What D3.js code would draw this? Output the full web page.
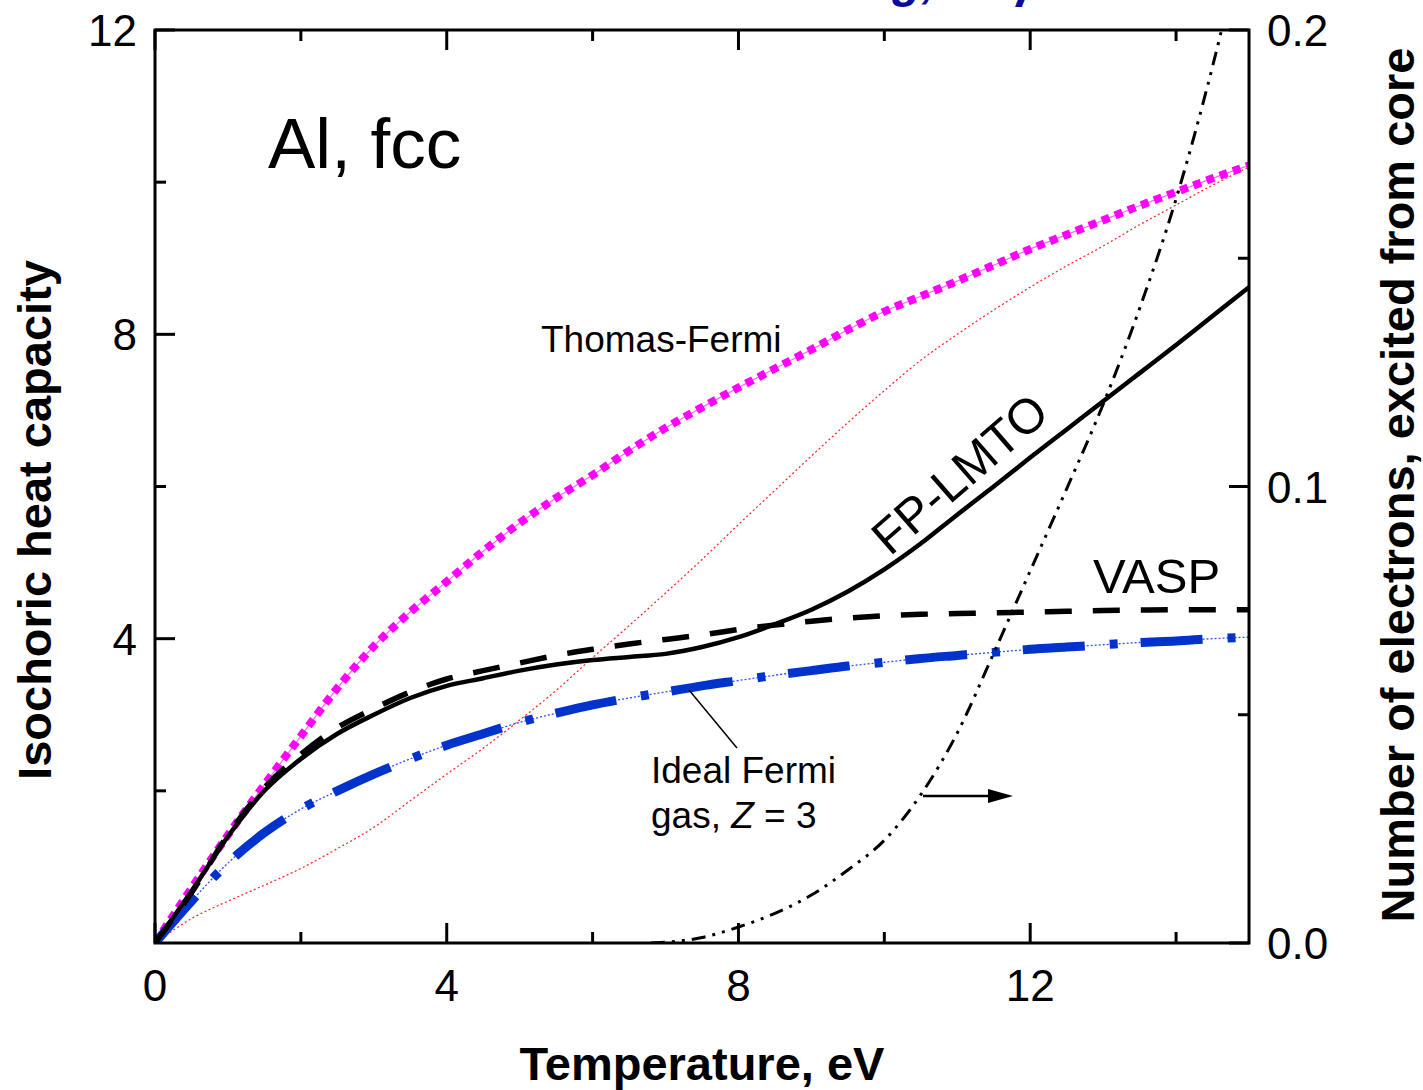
<!DOCTYPE html>
<html lang="en">
<head>
    <meta charset="UTF-8">
    <title>Al fcc heat capacity</title>
    <script src="https://cdnjs.cloudflare.com/ajax/libs/d3/7.9.0/d3.min.js"></script>
    <style>
        body { margin: 0; background: #fff; font-family: "Liberation Sans", Arial, sans-serif; }
        svg text { font-family: "Liberation Sans", Arial, sans-serif; }
        .tick-label { font-size: 44px; fill: #000; }
        .axis-title { font-size: 47px; font-weight: bold; fill: #000; }
        .note { font-size: 37px; fill: #000; }
    </style>
</head>
<body>
<div id="chart"></div>
<script>
    // temperature grid (eV) and curves
    const tGrid = [0, 0.5, 1, 1.5, 2, 2.5, 3, 3.5, 4, 4.5, 5, 5.5, 6, 6.5, 7, 7.5, 8, 8.5, 9, 9.5, 10, 10.5, 11, 11.5, 12, 12.5, 13, 13.5, 14, 14.5, 15];

    const thomasFermi = [0, 0.72, 1.42, 2.08, 2.72, 3.35, 3.9, 4.35, 4.75, 5.15, 5.52, 5.85, 6.15, 6.47, 6.77, 7.04, 7.3, 7.55, 7.8, 8.06, 8.3, 8.5, 8.7, 8.91, 9.12, 9.31, 9.5, 9.69, 9.87, 10.05, 10.22];
    const fpLmto = [0, 0.68, 1.4, 2.0, 2.42, 2.75, 3.0, 3.22, 3.38, 3.48, 3.58, 3.66, 3.72, 3.76, 3.8, 3.89, 4.02, 4.19, 4.38, 4.62, 4.91, 5.25, 5.63, 6.0, 6.38, 6.75, 7.12, 7.49, 7.86, 8.24, 8.62];
    const vasp = [0, 0.66, 1.42, 2.04, 2.48, 2.83, 3.08, 3.3, 3.47, 3.58, 3.68, 3.78, 3.86, 3.93, 3.99, 4.05, 4.12, 4.18, 4.23, 4.27, 4.3, 4.32, 4.33, 4.34, 4.35, 4.36, 4.37, 4.375, 4.38, 4.38, 4.38];
    const idealFermi = [0, 0.55, 1.05, 1.45, 1.76, 2.0, 2.22, 2.42, 2.6, 2.75, 2.9, 3.02, 3.13, 3.22, 3.3, 3.38, 3.45, 3.52, 3.58, 3.64, 3.69, 3.74, 3.78, 3.82, 3.86, 3.89, 3.92, 3.95, 3.97, 4.0, 4.02];
    const redDotted = [0, 0.32, 0.55, 0.76, 0.98, 1.24, 1.52, 1.87, 2.22, 2.56, 2.93, 3.32, 3.75, 4.17, 4.6, 5.04, 5.5, 5.95, 6.4, 6.84, 7.26, 7.66, 8.0, 8.32, 8.62, 8.9, 9.16, 9.44, 9.7, 9.96, 10.2];

    // electrons excited from core (right axis)
    const coreT = [6.8, 7.5, 8, 8.5, 9, 9.5, 10, 10.5, 11, 11.5, 12, 12.5, 13, 13.5, 14, 14.5, 15];
    const coreN = [0, 0.0012, 0.0035, 0.0065, 0.0105, 0.016, 0.0225, 0.0325, 0.046, 0.0635, 0.0815, 0.0995, 0.118, 0.139, 0.163, 0.192, 0.226];

    const xTicks = [0, 4, 8, 12];
    const xMinor = [2, 6, 10, 14];
    const yTicks = [4, 8, 12];
    const yMinor = [2, 6, 10];
    const y2Ticks = [0, 0.1, 0.2];
    const y2Minor = [0.05, 0.15];

    const width = 1423, height = 1090;
    const margin = { top: 30, right: 174, bottom: 147, left: 155 };
    const w = width - margin.left - margin.right;
    const h = height - margin.top - margin.bottom;

    const svg = d3.select("#chart").append("svg")
        .attr("width", width)
        .attr("height", height);

    const x = d3.scaleLinear().domain([0, 15]).range([0, w]);
    const y = d3.scaleLinear().domain([0, 12]).range([h, 0]);
    const y2 = d3.scaleLinear().domain([0, 0.2]).range([h, 0]);

    svg.append("defs").append("clipPath").attr("id", "plot-clip")
        .append("rect").attr("width", w).attr("height", h);

    const g = svg.append("g").attr("transform", `translate(${margin.left},${margin.top})`);
    const plot = g.append("g").attr("clip-path", "url(#plot-clip)");

    const line = d3.line()
        .x(d => x(d[0]))
        .y(d => y(d[1]))
        .curve(d3.curveMonotoneX);
    const pairs = vals => tGrid.map((t, i) => [t, vals[i]]);

    // thin red dotted
    plot.append("path").attr("d", line(pairs(redDotted)))
        .attr("fill", "none").attr("stroke", "#ff2020").attr("stroke-width", 1.2)
        .attr("stroke-dasharray", "2,2.5");

    // Thomas-Fermi: thin line plus thick square dots
    plot.append("path").attr("d", line(pairs(thomasFermi)))
        .attr("fill", "none").attr("stroke", "#ff66ff").attr("stroke-width", 1.2);
    plot.append("path").attr("d", line(pairs(thomasFermi)))
        .attr("fill", "none").attr("stroke", "#ff00ff").attr("stroke-width", 8)
        .attr("stroke-dasharray", "8,6");

    // ideal Fermi gas: thin dotted plus dash-dot
    plot.append("path").attr("d", line(pairs(idealFermi)))
        .attr("fill", "none").attr("stroke", "#3050ff").attr("stroke-width", 1.3)
        .attr("stroke-dasharray", "2,2");
    plot.append("path").attr("d", line(pairs(idealFermi)))
        .attr("fill", "none").attr("stroke", "#0033cc").attr("stroke-width", 9)
        .attr("stroke-dasharray", "62,25,8,23");

    // VASP dashed
    plot.append("path").attr("d", line(pairs(vasp)))
        .attr("fill", "none").attr("stroke", "#000").attr("stroke-width", 5.5)
        .attr("stroke-dasharray", "27,21");

    // FP-LMTO solid
    plot.append("path").attr("d", line(pairs(fpLmto)))
        .attr("fill", "none").attr("stroke", "#000").attr("stroke-width", 4.5);

    // core electrons, right axis
    const coreLine = d3.line()
        .x(d => x(d[0]))
        .y(d => y2(d[1]))
        .curve(d3.curveMonotoneX);
    plot.append("path").attr("d", coreLine(coreT.map((t, i) => [t, coreN[i]])))
        .attr("fill", "none").attr("stroke", "#000").attr("stroke-width", 3)
        .attr("stroke-dasharray", "14,7,3,7,3,7");

    // frame
    g.append("rect").attr("width", w).attr("height", h)
        .attr("fill", "none").attr("stroke", "#000").attr("stroke-width", 3);

    // inward ticks
    const major = 20, minor = 11;
    const tk = g.append("g").attr("stroke", "#000").attr("stroke-width", 3);
    xTicks.concat(xMinor).forEach(v => {
        const len = xTicks.includes(v) ? major : minor;
        tk.append("line").attr("x1", x(v)).attr("x2", x(v)).attr("y1", h).attr("y2", h - len);
        tk.append("line").attr("x1", x(v)).attr("x2", x(v)).attr("y1", 0).attr("y2", len);
    });
    yTicks.concat(yMinor).forEach(v => {
        const len = yTicks.includes(v) ? major : minor;
        tk.append("line").attr("x1", 0).attr("x2", len).attr("y1", y(v)).attr("y2", y(v));
    });
    y2Ticks.concat(y2Minor).forEach(v => {
        const len = y2Ticks.includes(v) ? major : minor;
        tk.append("line").attr("x1", w).attr("x2", w - len).attr("y1", y2(v)).attr("y2", y2(v));
    });

    // tick labels
    xTicks.forEach(v => {
        g.append("text").attr("class", "tick-label")
            .attr("x", x(v)).attr("y", h + 58)
            .attr("text-anchor", "middle").text(v);
    });
    yTicks.forEach(v => {
        g.append("text").attr("class", "tick-label")
            .attr("x", -18).attr("y", y(v) + 16)
            .attr("text-anchor", "end").text(v);
    });
    y2Ticks.forEach(v => {
        g.append("text").attr("class", "tick-label")
            .attr("x", w + 18).attr("y", y2(v) + 16)
            .attr("text-anchor", "start").text(d3.format(".1f")(v));
    });

    // axis titles
    svg.append("text").attr("class", "axis-title")
        .attr("x", margin.left + w / 2).attr("y", 1080)
        .attr("text-anchor", "middle").text("Temperature, eV");
    svg.append("text").attr("class", "axis-title")
        .attr("transform", "translate(51,520) rotate(-90)")
        .attr("text-anchor", "middle").text("Isochoric heat capacity");
    svg.append("text").attr("class", "axis-title")
        .attr("transform", "translate(1414,485) rotate(-90)")
        .attr("text-anchor", "middle").text("Number of electrons, excited from core");

    // cropped blue heading at the very top
    svg.append("text").attr("x", 935).attr("y", -3)
        .attr("text-anchor", "end")
        .style("font-size", "48px").style("font-weight", "bold").style("font-style", "italic")
        .attr("fill", "#0a0aa0").text("g,");
    svg.append("text").attr("x", 1012).attr("y", -3)
        .style("font-size", "48px").style("font-weight", "bold").style("font-style", "italic")
        .attr("fill", "#0a0aa0").text("γ");

    // annotations
    svg.append("text").attr("x", 268).attr("y", 168)
        .style("font-size", "71px").attr("fill", "#000").text("Al, fcc");
    svg.append("text").attr("class", "note").attr("x", 541).attr("y", 352).text("Thomas-Fermi");
    svg.append("text").attr("transform", "translate(890,557) rotate(-41)")
        .style("font-size", "49px").attr("fill", "#000").text("FP-LMTO");
    svg.append("text").attr("x", 1093).attr("y", 593)
        .style("font-size", "49px").attr("fill", "#000").text("VASP");
    svg.append("text").attr("class", "note").attr("x", 651).attr("y", 783).text("Ideal Fermi");
    const gas = svg.append("text").attr("class", "note").attr("x", 651).attr("y", 828);
    gas.append("tspan").text("gas, ");
    gas.append("tspan").style("font-style", "italic").text("Z");
    gas.append("tspan").text(" = 3");

    // leader line to ideal Fermi curve
    svg.append("line").attr("x1", 689).attr("y1", 690).attr("x2", 737).attr("y2", 748)
        .attr("stroke", "#000").attr("stroke-width", 1.5);

    // arrow pointing to right axis
    svg.append("line").attr("x1", 923).attr("y1", 796).attr("x2", 992).attr("y2", 796)
        .attr("stroke", "#000").attr("stroke-width", 2.5);
    svg.append("path").attr("d", "M988,789 L1013,796 L988,803 Z").attr("fill", "#000");
</script>
</body>
</html>
